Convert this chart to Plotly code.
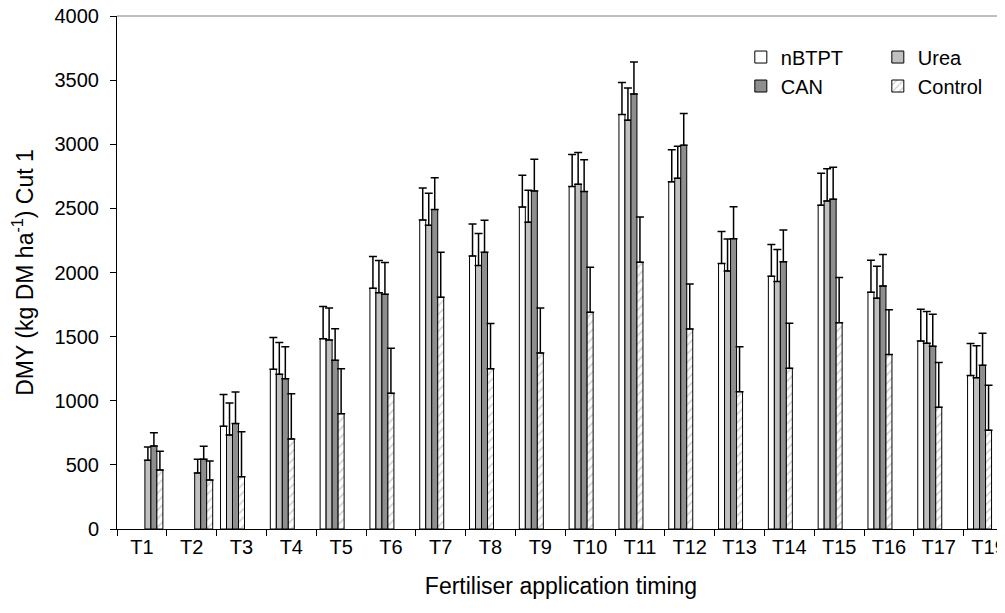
import plotly.graph_objects as go

categories = ["T1", "T2", "T3", "T4", "T5", "T6", "T7", "T8", "T9", "T10",
              "T11", "T12", "T13", "T14", "T15", "T16", "T17", "T19"]

# Main treatments (T3 onwards)
nbtpt = [None, None, 801, 1245, 1484, 1877, 2410, 2129, 2510, 2670,
         3232, 2707, 2070, 1971, 2525, 1846, 1466, 1196]
urea = [None, None, 733, 1206, 1474, 1843, 2368, 2054, 2392, 2688,
        3188, 2735, 2012, 1930, 2558, 1800, 1448, 1180]
can = [None, None, 822, 1172, 1315, 1830, 2491, 2158, 2636, 2631,
       3392, 2993, 2264, 2083, 2572, 1895, 1425, 1277]
control = [None, None, 408, 702, 899, 1058, 1807, 1250, 1373, 1690,
           2080, 1560, 1071, 1253, 1609, 1360, 949, 770]

nbtpt_err = [None, None, 248, 248, 250, 248, 248, 250, 248, 250,
             250, 250, 250, 248, 248, 250, 248, 250]
urea_err = [None, None, 250, 248, 250, 250, 250, 250, 250, 248,
            250, 250, 250, 250, 250, 248, 248, 248]
can_err = [None, None, 246, 250, 246, 248, 248, 250, 248, 248,
           250, 246, 248, 248, 248, 246, 249, 249]
control_err = [None, None, 351, 353, 351, 351, 351, 352, 351, 351,
               352, 351, 351, 352, 352, 350, 349, 351]

# Early timings (T1, T2) plotted as separate series
urea_early = [536, 437] + [None] * 16
can_early = [647, 544] + [None] * 16
control_early = [460, 382] + [None] * 16
urea_early_err = [104, 107] + [None] * 16
can_early_err = [104, 101] + [None] * 16
control_early_err = [146, 148] + [None] * 16

FONT = "Liberation Sans, Arial, sans-serif"
FS = 20
TFS = 23
fig = go.Figure()


def add_bar(name, vals, errs, color, legend=None, show=True, pattern=None):
    marker = dict(color=color, line=dict(color="black", width=1))
    if pattern:
        marker["pattern"] = pattern
    fig.add_trace(go.Bar(
        x=categories, y=vals, name=name, marker=marker,
        showlegend=show, legend=legend,
        error_y=dict(type="data", array=errs, arrayminus=[0] * len(errs),
                     symmetric=False, color="black", thickness=1.5, width=4),
    ))


hatch = dict(shape="/", fgcolor="#9a9a9a", bgcolor="white", size=6, solidity=0.25)

add_bar("nBTPT", nbtpt, nbtpt_err, "white", legend="legend")
add_bar("Urea", urea, urea_err, "#c0c0c0", legend="legend")
add_bar("CAN", can, can_err, "#8e8e8e", legend="legend2")
add_bar("Control", control, control_err, "white", legend="legend2", pattern=hatch)
add_bar("Urea (early)", urea_early, urea_early_err, "#c0c0c0", show=False)
add_bar("CAN (early)", can_early, can_early_err, "#8e8e8e", show=False)
add_bar("Control (early)", control_early, control_early_err, "white", show=False, pattern=hatch)

leg_common = dict(orientation="h", xanchor="left", yanchor="middle",
                  bgcolor="rgba(0,0,0,0)", font=dict(family=FONT, size=FS, color="black"),
                  entrywidth=92, entrywidthmode="pixels", itemclick=False)

fig.update_layout(
    width=997, height=605,
    margin=dict(l=109, r=0, t=8, b=84, autoexpand=False),
    paper_bgcolor="white", plot_bgcolor="white",
    barmode="group", bargap=0.157, bargroupgap=0,
    font=dict(family=FONT, size=FS, color="black"),
    legend=dict(x=0.7025, y=0.92, **leg_common),
    legend2=dict(x=0.7025, y=0.8635, **leg_common),
    xaxis=dict(
        range=[-0.5, 17.33], showline=True, linecolor="black", linewidth=1,
        ticks="outside", tickson="boundaries", ticklen=6, tickcolor="black",
        showgrid=False, tickfont=dict(size=FS), tickangle=0, automargin=False,
        ticklabeloverflow="allow",
        title=dict(text="Fertiliser application timing", font=dict(size=TFS), standoff=20),
    ),
    yaxis=dict(
        range=[0, 4000], dtick=500, showline=True, linecolor="black", linewidth=1,
        ticks="outside", ticklen=6, tickcolor="black", showgrid=False,
        zeroline=False, tickfont=dict(size=FS), automargin=False, ticklabelstandoff=7,
        ticklabeloverflow="allow",
        title=dict(text="DMY (kg DM ha<sup>-1</sup>) Cut 1", font=dict(size=TFS), standoff=24),
    ),
    shapes=[dict(type="line", xref="paper", yref="paper", x0=0, x1=1, y0=1, y1=1,
                 line=dict(color="#808080", width=1))],
)

fig.write_html("out.html")
